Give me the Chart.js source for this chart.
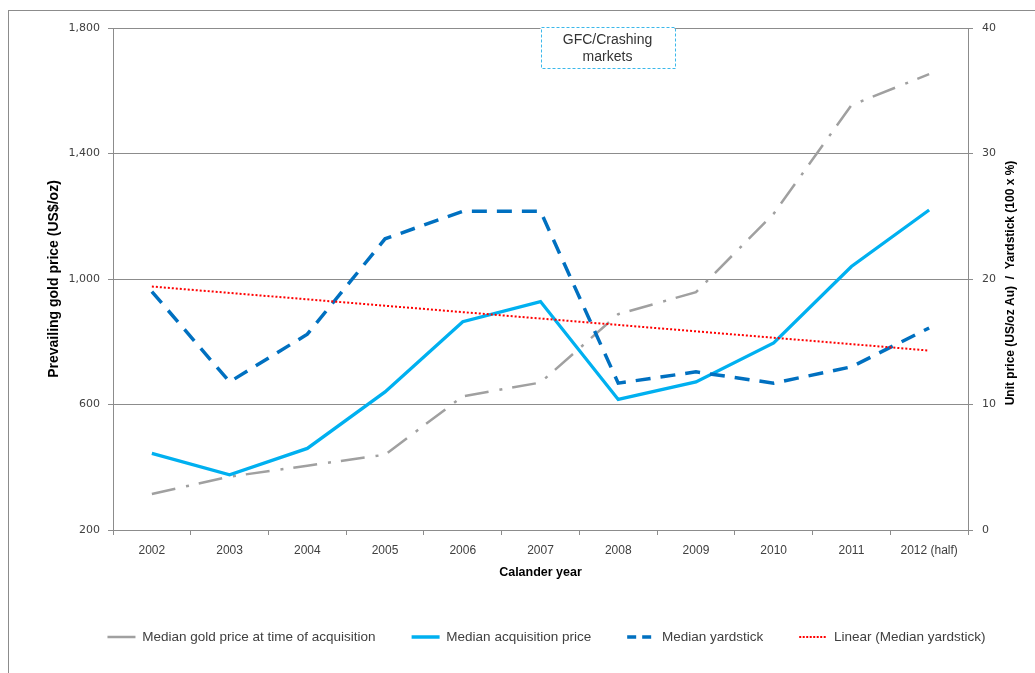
<!DOCTYPE html>
<html><head><meta charset="utf-8">
<script src="https://cdn.jsdelivr.net/npm/chart.js@4.4.1/dist/chart.umd.min.js"></script>
<style>html,body{margin:0;padding:0;background:#fff;} canvas{display:block;}</style>
</head><body>
<canvas id="c" width="1035" height="673"></canvas>
<script>
const categories = ['2002','2003','2004','2005','2006','2007','2008','2009','2010','2011','2012 (half)'];
const goldPrice = [315, 370, 405, 440, 626, 670, 888, 958, 1208, 1554, 1653];
const acquisitionPrice = [6.1, 4.4, 6.5, 11.0, 16.6, 18.2, 10.4, 11.8, 14.9, 21.0, 25.5];
const yardstick = [19.0, 11.8, 15.6, 23.2, 25.4, 25.4, 11.7, 12.6, 11.7, 13.0, 16.1];
const yardstickTrend = [19.4, null, null, null, null, null, null, null, null, null, 14.3];
const leftAxisRange = [200, 1800, 400];
const rightAxisRange = [0, 40, 10];
const seriesLabels = ['Median gold price at time of acquisition', 'Median acquisition price', 'Median yardstick', 'Linear (Median yardstick)'];
const leftTitle = 'Prevailing gold price (US$/oz)';
const rightTitle = 'Unit price (US/oz Au)  /  Yardstick (100 x %)';
const xTitle = 'Calander year';
const annotationLines = ['GFC/Crashing', 'markets'];
const annotationStart = '2007';

const GRID = '#8c8c8c';
const TEXT = '#404040';
const legendDashes = [[], [], [9, 6], [2, 1.5]];

const decor = {
  id: 'decor',
  afterLayout(chart) {
    const lg = chart.legend;
    if (lg) { lg.left += 29; lg.right += 29; }
  },
  beforeDraw(chart) {
    const ctx = chart.ctx;
    ctx.save();
    ctx.strokeStyle = '#8c8c8c';
    ctx.lineWidth = 1;
    ctx.strokeRect(8.5, 10.5, 1100, 800);
    ctx.restore();
  },
  afterDraw(chart) {
    const ctx = chart.ctx;
    const ca = chart.chartArea;
    // right axis title (reads bottom-to-top)
    ctx.save();
    ctx.font = 'bold 12px "Liberation Sans", Arial, sans-serif';
    ctx.fillStyle = '#000';
    ctx.textAlign = 'center';
    ctx.textBaseline = 'middle';
    ctx.translate(1011, (ca.top + ca.bottom) / 2 + 4);
    ctx.rotate(-Math.PI / 2);
    ctx.fillText(rightTitle, 0, 0);
    ctx.restore();
    // annotation box
    const xs = chart.scales.x;
    const left = xs.getPixelForValue(categories.indexOf(annotationStart));
    const w = 134, h = 41, top = ca.top - 1;
    ctx.save();
    ctx.fillStyle = '#fff';
    ctx.fillRect(left, top, w, h);
    ctx.strokeStyle = '#3cb8ea';
    ctx.lineWidth = 1;
    ctx.setLineDash([3, 2]);
    ctx.strokeRect(Math.round(left) + 0.5, Math.round(top) + 0.5, w, h);
    ctx.setLineDash([]);
    ctx.fillStyle = '#333';
    ctx.font = '14px "Liberation Sans", Arial, sans-serif';
    ctx.textAlign = 'center';
    ctx.textBaseline = 'middle';
    ctx.fillText(annotationLines[0], left + w / 2, top + 13);
    ctx.fillText(annotationLines[1], left + w / 2, top + 30);
    ctx.restore();
  }
};

new Chart(document.getElementById('c'), {
  type: 'line',
  data: {
    labels: categories,
    datasets: [
      { label: seriesLabels[0], data: goldPrice, yAxisID: 'yL', borderColor: '#a0a0a0', backgroundColor: '#a0a0a0',
        borderWidth: 2.5, borderDash: [24, 11, 3, 10], pointRadius: 0, tension: 0, order: 4 },
      { label: seriesLabels[1], data: acquisitionPrice, yAxisID: 'yR', borderColor: '#00b0f0', backgroundColor: '#00b0f0',
        borderWidth: 3.3, pointRadius: 0, tension: 0, order: 3 },
      { label: seriesLabels[2], data: yardstick, yAxisID: 'yR', borderColor: '#0070c0', backgroundColor: '#0070c0',
        borderWidth: 3.5, borderDash: [15, 10], pointRadius: 0, tension: 0, order: 2 },
      { label: seriesLabels[3], data: yardstickTrend, yAxisID: 'yR', borderColor: '#ff0000', backgroundColor: '#ff0000',
        borderWidth: 2, borderDash: [2, 2], pointRadius: 0, tension: 0, spanGaps: true, order: 1 }
    ]
  },
  options: {
    responsive: false,
    animation: false,
    layout: { padding: { left: 0, right: 0, top: 28, bottom: 19.25 } },
    plugins: {
      tooltip: { enabled: false },
      legend: {
        position: 'bottom',
        labels: {
          usePointStyle: true,
          pointStyle: 'line',
          pointStyleWidth: 28,
          padding: 36,
          color: TEXT,
          font: { family: '"Liberation Sans", Arial, sans-serif', size: 13.5 },
          sort: (a, b) => a.datasetIndex - b.datasetIndex,
          generateLabels(chart) {
            const items = Chart.defaults.plugins.legend.labels.generateLabels(chart);
            items.forEach(it => {
              const ds = chart.data.datasets[it.datasetIndex];
              it.pointStyle = 'line';
              it.lineDash = legendDashes[it.datasetIndex];
              it.lineWidth = ds.borderWidth;
              it.strokeStyle = ds.borderColor;
            });
            return items;
          }
        }
      }
    },
    scales: {
      x: {
        offset: true,
        grid: { display: true, offset: true, drawOnChartArea: false, tickLength: 5, color: GRID },
        border: { display: true, color: GRID, width: 1 },
        ticks: { color: TEXT, padding: 8, maxRotation: 0, autoSkip: false,
          font: { family: '"Liberation Sans Narrow", "Liberation Sans", Arial, sans-serif', size: 12 } },
        title: { display: true, text: xTitle, color: '#000', padding: { top: 4, bottom: 13.75 },
          font: { family: '"Liberation Sans", Arial, sans-serif', size: 12.5, weight: 'bold' } },
        afterFit(s) { s.height = 64.25; }
      },
      yL: {
        position: 'left',
        min: leftAxisRange[0], max: leftAxisRange[1],
        grid: { color: GRID, tickLength: 5 },
        border: { display: true, color: GRID, width: 1 },
        ticks: { stepSize: leftAxisRange[2], color: TEXT, padding: 8,
          font: { family: '"DejaVu Sans", Verdana, sans-serif', size: 11 } },
        title: { display: true, text: leftTitle, color: '#000', padding: { top: 46, bottom: 0 },
          font: { family: '"Liberation Sans", Arial, sans-serif', size: 14, weight: 'bold' } },
        afterFit(s) { s.width = 113; }
      },
      yR: {
        position: 'right',
        min: rightAxisRange[0], max: rightAxisRange[1],
        grid: { drawOnChartArea: false, color: GRID, tickLength: 5 },
        border: { display: true, color: GRID, width: 1 },
        ticks: { stepSize: rightAxisRange[2], color: TEXT, padding: 9,
          font: { family: '"DejaVu Sans", Verdana, sans-serif', size: 11 } },
        afterFit(s) { s.width = 67; }
      }
    }
  },
  plugins: [decor]
});
</script>
</body></html>
